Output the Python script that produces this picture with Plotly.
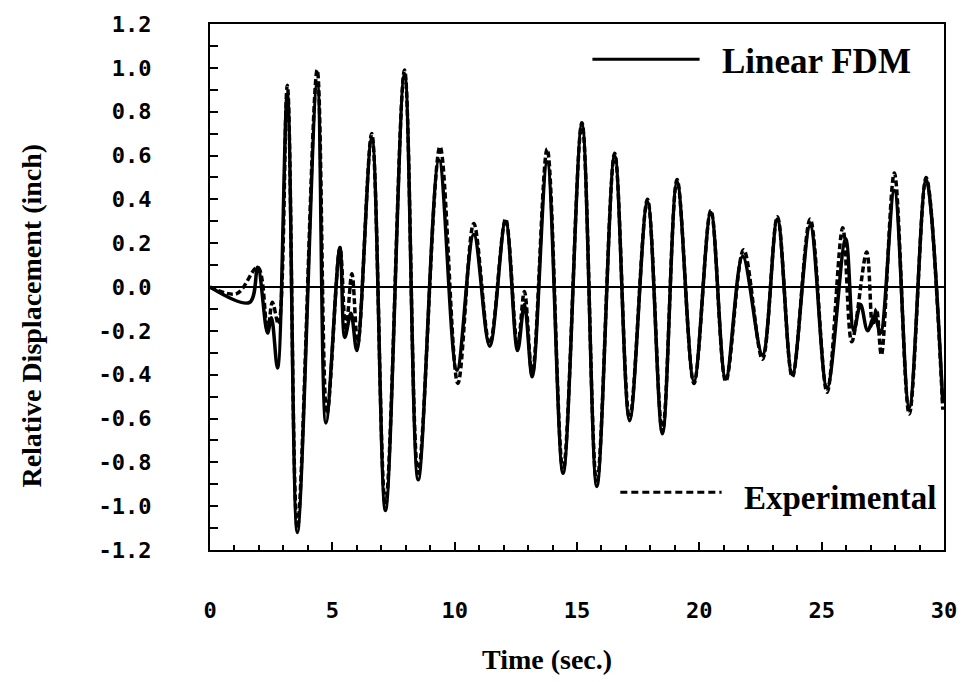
import plotly.graph_objects as go

# Linear FDM response: turning points of the displacement history
fdm_time = [0.0, 1.62, 1.95, 2.35, 2.51, 2.76, 3.16, 3.57, 4.38, 4.74, 5.31, 5.51, 5.76, 6.00,
            6.61, 7.17, 7.95, 8.51, 9.36, 10.09, 10.78, 11.43, 12.08, 12.57, 12.85, 13.17,
            13.78, 14.43, 15.20, 15.81, 16.54, 17.15, 17.88, 18.49, 19.09, 19.78, 20.47,
            21.08, 21.77, 22.58, 23.19, 23.80, 24.53, 25.22, 25.98, 26.31, 26.59, 26.88,
            27.16, 27.40, 27.97, 28.58, 29.27, 29.95]
fdm_disp = [0.0, -0.07, 0.09, -0.21, -0.14, -0.37, 0.88, -1.12, 0.93, -0.62, 0.18, -0.23, -0.12, -0.29,
            0.68, -1.02, 0.97, -0.88, 0.58, -0.38, 0.24, -0.27, 0.30, -0.29, -0.08, -0.41,
            0.57, -0.85, 0.74, -0.91, 0.60, -0.61, 0.39, -0.67, 0.48, -0.43, 0.34,
            -0.42, 0.14, -0.31, 0.31, -0.40, 0.28, -0.46, 0.22, -0.20, -0.08, -0.20,
            -0.13, -0.21, 0.44, -0.55, 0.49, -0.53]

# Measured (shake-table) response
exp_time = [0.0, 1.09, 1.95, 2.35, 2.55, 2.80, 3.16, 3.57, 4.38, 4.78, 5.31, 5.55, 5.80, 6.04,
            6.61, 7.17, 7.95, 8.51, 9.40, 10.13, 10.78, 11.43, 12.08, 12.57, 12.85, 13.17,
            13.78, 14.43, 15.20, 15.81, 16.54, 17.15, 17.88, 18.49, 19.09, 19.78, 20.47,
            21.08, 21.81, 22.58, 23.19, 23.80, 24.53, 25.22, 25.86, 26.23, 26.84, 27.08,
            27.24, 27.44, 27.97, 28.58, 29.27, 29.95]
exp_disp = [0.0, -0.03, 0.09, -0.20, -0.07, -0.17, 0.92, -1.10, 0.99, -0.58, 0.18, -0.20, 0.06, -0.26,
            0.70, -1.00, 0.99, -0.85, 0.64, -0.44, 0.29, -0.26, 0.31, -0.27, -0.02, -0.40,
            0.63, -0.84, 0.75, -0.90, 0.61, -0.60, 0.40, -0.66, 0.49, -0.44, 0.35,
            -0.43, 0.17, -0.33, 0.32, -0.41, 0.31, -0.48, 0.27, -0.25, 0.16, -0.18,
            -0.10, -0.31, 0.52, -0.58, 0.50, -0.56]

y_ticks = [1.2, 1.0, 0.8, 0.6, 0.4, 0.2, 0.0, -0.2, -0.4, -0.6, -0.8, -1.0, -1.2]
y_tick_text = ["1.2", "1.0", "0.8", "0.6", "0.4", "0.2", "0.0",
               "-0.2", "-0.4", "-0.6", "-0.8", "-1.0", "-1.2"]
x_ticks = [0, 5, 10, 15, 20, 25, 30]
x_tick_text = ["0", "5", "10", "15", "20", "25", "30"]

serif = "Liberation Serif"
mono = "DejaVu Sans Mono"

fig = go.Figure()
fig.add_trace(go.Scatter(
    x=exp_time, y=exp_disp, mode="lines", name="Experimental",
    line=dict(color="black", width=3.5, dash="6px,3px", shape="spline", smoothing=1.0),
))
fig.add_trace(go.Scatter(
    x=fdm_time, y=fdm_disp, mode="lines", name="Linear FDM",
    line=dict(color="black", width=3.5, shape="spline", smoothing=1.0),
))

fig.update_layout(
    width=969, height=682,
    margin=dict(l=210, r=16, t=24, b=132),
    paper_bgcolor="white", plot_bgcolor="white",
    showlegend=False,
    font=dict(family=mono, color="black"),
)

fig.update_xaxes(
    range=[0, 30], tickvals=x_ticks, ticktext=x_tick_text,
    showgrid=False, zeroline=False,
    showline=True, linecolor="black", linewidth=2, mirror=True,
    ticks="inside", ticklen=8, tickwidth=2, tickcolor="black",
    minor=dict(dtick=1, ticks="inside", ticklen=5, tickwidth=2, tickcolor="black"),
    tickfont=dict(family=mono, size=22, color="black", weight="bold"),
    ticklabelstandoff=40, ticklabeloverflow="allow",
)
fig.update_yaxes(
    range=[-1.2, 1.2], tickvals=y_ticks, ticktext=y_tick_text,
    showgrid=False,
    zeroline=True, zerolinecolor="black", zerolinewidth=2,
    showline=True, linecolor="black", linewidth=2, mirror=True,
    ticks="inside", ticklen=8, tickwidth=2, tickcolor="black",
    minor=dict(dtick=0.1, ticks="inside", ticklen=8, tickwidth=2, tickcolor="black"),
    tickfont=dict(family=mono, size=22, color="black", weight="bold"),
    ticklabelstandoff=52,
)

title_font = dict(family=serif, size=28, color="black", weight="bold")

annotations = [
    dict(text="Relative Displacement (inch)", xref="paper", yref="paper",
         x=-0.243, y=0.445, textangle=-90, showarrow=False, font=title_font,
         xanchor="center", yanchor="middle"),
    dict(text="Time (sec.)", xref="paper", yref="paper",
         x=0.459, y=-0.209, showarrow=False, font=title_font,
         xanchor="center", yanchor="middle"),
    dict(text="Linear FDM", xref="paper", yref="paper",
         x=0.695, y=0.928, showarrow=False,
         font=dict(family=serif, size=35, color="black", weight="bold"),
         xanchor="left", yanchor="middle"),
    dict(text="Experimental", xref="paper", yref="paper",
         x=0.725, y=0.099, showarrow=False,
         font=dict(family=serif, size=33, color="black", weight="bold"),
         xanchor="left", yanchor="middle"),
]
fig.update_layout(annotations=annotations)

fig.add_shape(type="line", xref="paper", yref="paper",
              x0=0.521, x1=0.667, y0=0.933, y1=0.933,
              line=dict(color="black", width=3))
fig.add_shape(type="line", xref="paper", yref="paper",
              x0=0.559, x1=0.697, y0=0.110, y1=0.110,
              line=dict(color="black", width=3, dash="7px,4px"))

fig.write_html("out.html")
